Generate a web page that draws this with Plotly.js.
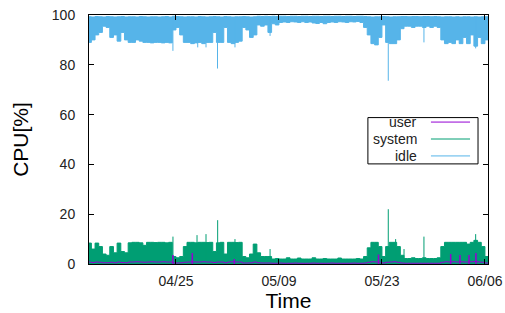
<!DOCTYPE html>
<html>
<head>
<meta charset="utf-8">
<script src="https://cdn.plot.ly/plotly-3.0.1.min.js"></script>
<style>html,body{margin:0;padding:0;background:#fff;}#chart{width:505px;height:313px;}</style>
</head>
<body>
<div id="chart"></div>
<script>
// 12-hour bins starting 2023-04-13 00:00
const binStart = '2023-04-13T00:00:00Z';
const binHours = 12;

const idleLow = [
  89, 90, 92, 93, 95.5, 95, 91, 92, 89.5, 93,
  90, 89, 89, 90, 89.5, 89, 89, 88.8, 89, 89,
  88.8, 89, 88.8, 94, 95, 92, 89, 89, 88.5, 88.8,
  89, 88.5, 89, 89, 93, 89, 89, 95, 89, 88.5,
  89, 89.5, 95, 94, 91, 92, 96, 95.5, 96, 93,
  96.5, 96, 97, 97.2, 97, 97.3, 97.2, 97, 97.3, 97,
  97.2, 96.8, 96.6, 97, 96.5, 97, 97.2, 97, 97.3, 97.2,
  97, 97.3, 97.2, 97.4, 97, 95, 92, 88.5, 88, 91,
  96, 89, 88.5, 88.5, 90, 94.5, 95.5, 95.5, 95, 95.5,
  95.5, 95, 95.5, 95, 95.5, 95, 90, 88.5, 89, 88.5,
  90, 88.5, 91, 88.5, 92, 87.5, 91, 88.5, 90
];
const idleHigh = [
  99.3, 99.2, 99.4, 99.3, 99.2, 99.4, 99.3, 99.2, 99.3, 99.4,
  99.2, 99.3, 99.3, 99.2, 99.4, 99.3, 99.2, 99.3, 99.3, 99.2,
  99.3, 99.4, 99.2, 99.5, 99.4, 99.3, 99.2, 99.3, 99.3, 99.2,
  99.4, 99.3, 99.2, 99.3, 99.4, 99.3, 99.2, 99.4, 99.3, 99.2,
  99.3, 99.3, 99.4, 99.3, 99.2, 99.3, 99.5, 99.4, 99.5, 99.4,
  99.5, 99.4, 99.5, 99.5, 99.4, 99.5, 99.5, 99.4, 99.5, 99.5,
  99.4, 99.5, 99.5, 99.4, 99.5, 99.5, 99.4, 99.5, 99.5, 99.4,
  99.5, 99.5, 99.4, 99.5, 99.5, 99.4, 99.3, 99.2, 99.3, 99.3,
  99.4, 99.3, 99.2, 99.3, 99.3, 99.4, 99.4, 99.3, 99.4, 99.4,
  99.3, 99.4, 99.4, 99.3, 99.4, 99.3, 99.2, 99.3, 99.3, 99.2,
  99.3, 99.2, 99.3, 99.3, 99.2, 99.3, 99.2, 99.3, 99.3
];
const systemHigh = [
  8.4, 6, 8.4, 7, 4, 3.5, 7, 4.5, 8.4, 5,
  4.5, 8.5, 8.7, 8.7, 8.5, 7.5, 8.7, 8.7, 8.6, 8.7,
  8.7, 8.5, 8.7, 3, 2.5, 3, 7, 8.7, 8.7, 8.5,
  8.7, 8.7, 8.6, 8.7, 5, 8.5, 8.7, 4, 8.7, 8.7,
  8.6, 8.7, 3, 2.5, 4, 8, 4.5, 3, 3, 3,
  2, 2.2, 2, 2, 2.5, 2, 2, 2.4, 2, 2,
  2, 2.5, 2, 2, 2.2, 2, 2, 2, 2.4, 2,
  2, 2, 2, 2.2, 2, 3, 6.5, 8.7, 8.7, 7,
  3, 7, 8.7, 8.7, 7, 3.5, 2.2, 2.2, 2.5, 2.2,
  2.2, 2.5, 2.2, 2.2, 2.2, 2.5, 7, 8.7, 8.7, 8.7,
  8.7, 8.7, 8.7, 8, 8.7, 9.5, 8.7, 7, 3
];
const userLevel = [
  0.8, 0.6, 0.8, 0.7, 0.5, 0.5, 0.7, 0.5, 0.8, 0.6,
  0.5, 0.8, 0.8, 0.9, 0.8, 0.7, 0.8, 0.9, 0.8, 0.8,
  0.9, 0.8, 0.8, 0.5, 0.4, 0.5, 0.7, 0.8, 0.9, 0.8,
  0.8, 0.9, 0.8, 0.8, 0.6, 0.8, 0.8, 0.5, 0.8, 0.9,
  0.8, 0.8, 0.4, 0.4, 0.5, 0.8, 0.5, 0.4, 0.4, 0.4,
  0.3, 0.3, 0.4, 0.3, 0.3, 0.3, 0.4, 0.3, 0.3, 0.3,
  0.3, 0.4, 0.3, 0.3, 0.3, 0.3, 0.4, 0.3, 0.3, 0.3,
  0.3, 0.3, 0.4, 0.3, 0.3, 0.4, 0.7, 0.9, 0.8, 0.7,
  0.4, 0.7, 0.8, 0.9, 0.7, 0.4, 0.3, 0.3, 0.3, 0.3,
  0.3, 0.3, 0.3, 0.3, 0.3, 0.3, 0.7, 0.9, 0.8, 0.9,
  0.8, 0.9, 0.8, 0.8, 0.9, 1.0, 0.8, 0.7, 0.4
];

// isolated short excursions
const idleDipTimes = ['2023-04-24 14:00', '2023-04-27 23:00', '2023-04-29 02:00', '2023-04-30 15:30',
  '2023-05-03 00:30', '2023-05-07 19:00', '2023-05-23 20:40', '2023-05-28 17:00', '2023-06-04 17:45'];
const idleDipValues = [85.6, 87, 87, 78.5, 87, 91.6, 73.6, 89, 86.6];

const systemPeakTimes = ['2023-04-24 14:10', '2023-04-27 20:40', '2023-04-29 02:00', '2023-04-30 16:00',
  '2023-05-03 00:30', '2023-05-07 19:00', '2023-05-23 20:40', '2023-05-24 20:40', '2023-05-26 00:00',
  '2023-05-28 17:00', '2023-06-04 17:45'];
const systemPeakValues = [11, 11.6, 12, 17.6, 10, 6, 22, 10, 6, 11, 12];

const userPeakTimes = ['2023-04-24 14:00', '2023-04-27 05:15', '2023-05-02 22:20', '2023-05-22 12:45',
  '2023-06-01 08:10', '2023-06-02 14:30', '2023-06-03 20:00', '2023-06-04 18:40'];
const userPeakValues = [3.6, 4.4, 2, 3.8, 4, 3.6, 3.6, 4.4];

const seriesNames = ['user', 'system', 'idle'];
const seriesColors = ['#9400d3', '#009e73', '#56b4e9'];

// ---- build ----
const t0 = Date.parse(binStart);
const fmt = ms => new Date(ms).toISOString().slice(0, 16).replace('T', ' ');
const times = Array.from({length: idleLow.length + 1}, (_, i) => fmt(t0 + i * binHours * 3600e3));
const ext = a => a.concat([a[a.length - 1]]);

function spikes(ts, vs, base) {
  const x = [], y = [];
  ts.forEach((t, i) => {
    const b = Array.isArray(base) ? base[i] : base;
    x.push(t, t, null); y.push(b, vs[i], null);
  });
  return {x, y};
}

const idleSp = spikes(idleDipTimes, idleDipValues, 99);
const sysSp = spikes(systemPeakTimes, systemPeakValues, 0);
const userSp = spikes(userPeakTimes, userPeakValues, 0);

const traces = [
  {x: times, y: ext(idleHigh), mode: 'lines', line: {color: seriesColors[2], width: 1, shape: 'hv'}, showlegend: false, hoverinfo: 'skip'},
  {x: times, y: ext(idleLow), mode: 'lines', fill: 'tonexty', fillcolor: seriesColors[2], line: {color: seriesColors[2], width: 1, shape: 'hv'}, showlegend: false, name: seriesNames[2]},
  {x: idleSp.x, y: idleSp.y, mode: 'lines', line: {color: seriesColors[2], width: 1}, showlegend: false, hoverinfo: 'skip'},
  {x: times, y: ext(systemHigh), mode: 'lines', fill: 'tozeroy', fillcolor: seriesColors[1], line: {color: seriesColors[1], width: 1, shape: 'hv'}, showlegend: false, name: seriesNames[1]},
  {x: sysSp.x, y: sysSp.y, mode: 'lines', line: {color: seriesColors[1], width: 1}, showlegend: false, hoverinfo: 'skip'},
  {x: times, y: ext(userLevel), mode: 'lines', line: {color: seriesColors[0], width: 1, shape: 'hv'}, showlegend: false, name: seriesNames[0]},
  {x: userSp.x, y: userSp.y, mode: 'lines', line: {color: seriesColors[0], width: 1.5}, showlegend: false, hoverinfo: 'skip'}
];

const font = 'Liberation Sans, Arial, sans-serif';
// legend drawn gnuplot-style: text right-aligned, sample line to the right
const legRowsY = [0.570, 0.502, 0.434];
const annotations = seriesNames.map((n, i) => ({
  xref: 'paper', yref: 'paper', x: 0.827, y: legRowsY[i], xanchor: 'right', yanchor: 'middle',
  text: n, showarrow: false, font: {family: font, size: 14, color: '#222'}
}));
const shapes = [
  {type: 'rect', xref: 'paper', yref: 'paper', x0: 0.699, x1: 0.975, y0: 0.402, y1: 0.588,
   line: {color: '#000', width: 1}, fillcolor: '#fff', layer: 'above'}
].concat(seriesNames.map((n, i) => ({
  type: 'line', xref: 'paper', yref: 'paper', x0: 0.857, x1: 0.955, y0: legRowsY[i], y1: legRowsY[i],
  line: {color: seriesColors[i], width: 1}, layer: 'above'
})));

const axisCommon = {
  ticks: 'inside', ticklen: 5, tickcolor: '#000', tickwidth: 1,
  showline: true, mirror: 'ticks', linecolor: '#000', linewidth: 1,
  showgrid: false, zeroline: false,
  tickfont: {family: font, size: 14, color: '#222'}
};

const layout = {
  width: 505, height: 313,
  margin: {l: 89, r: 17, t: 15, b: 49},
  paper_bgcolor: '#fff', plot_bgcolor: '#fff',
  showlegend: false,
  xaxis: Object.assign({}, axisCommon, {
    type: 'date', range: ['2023-04-13 04:15', '2023-06-06 10:00'],
    tick0: '2023-04-25', dtick: 14 * 86400000, tickformat: '%m/%d',
    ticklabelstandoff: 4,
    title: {text: 'Time', font: {family: font, size: 21, color: '#000'}, standoff: 4}
  }),
  yaxis: Object.assign({}, axisCommon, {
    range: [0, 100], dtick: 20, tick0: 0,
    ticklabelstandoff: 10,
    title: {text: 'CPU[%]', font: {family: font, size: 21, color: '#000'}, standoff: 17}
  }),
  annotations: annotations,
  shapes: shapes
};

Plotly.newPlot('chart', traces, layout, {staticPlot: true, displayModeBar: false});
</script>
</body>
</html>
